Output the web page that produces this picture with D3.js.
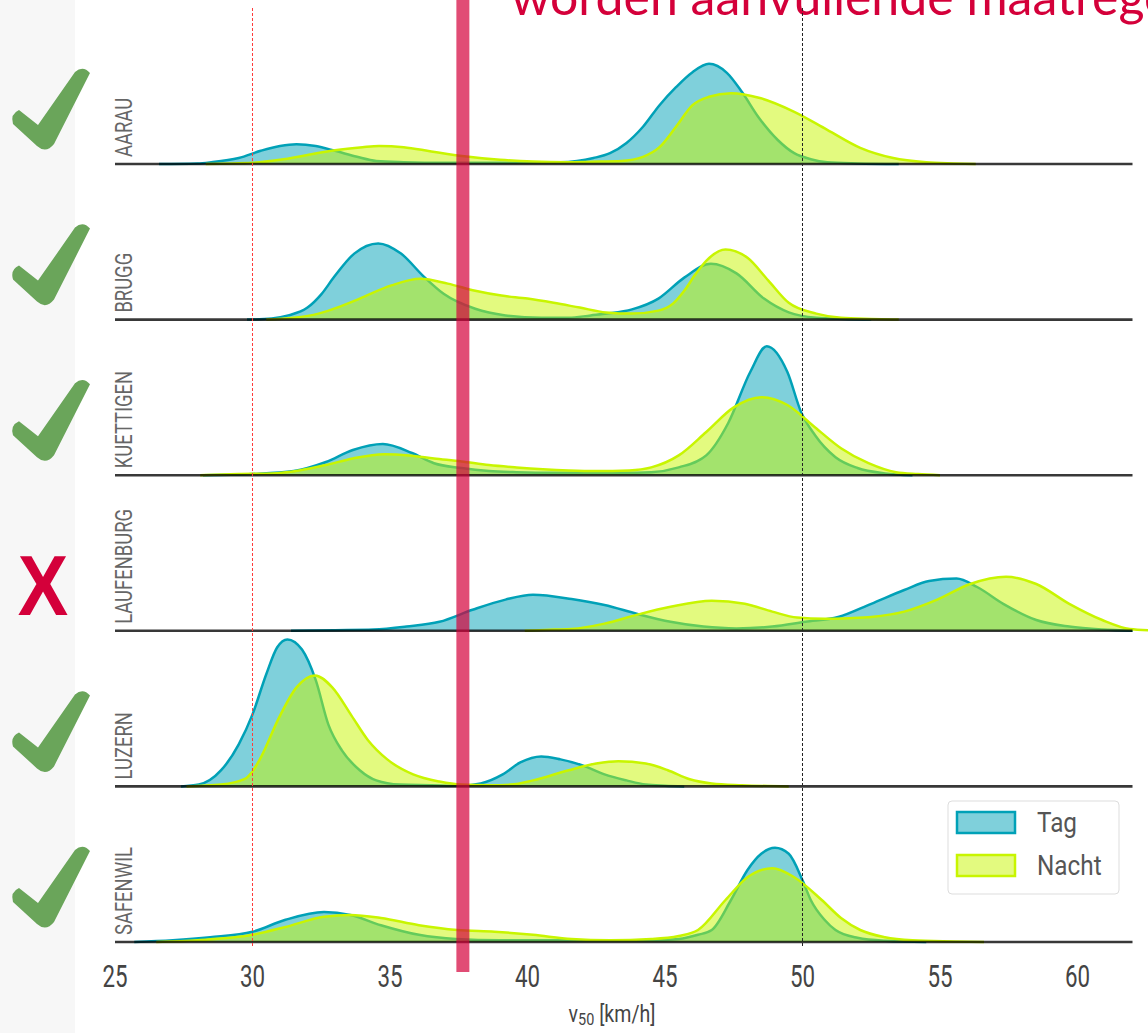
<!DOCTYPE html>
<html>
<head>
<meta charset="utf-8">
<script src="https://cdn.jsdelivr.net/npm/d3@7"></script>
<style>
  html, body { margin: 0; padding: 0; background: #ffffff; }
  svg { display: block; }
</style>
</head>
<body>
<svg id="chart" width="1148" height="1033"></svg>
<script>
// Stations, top to bottom
const stations = ["AARAU", "BRUGG", "KUETTIGEN", "LAUFENBURG", "LUZERN", "SAFENWIL"];
// Verdict per station (true = ok)
const verdicts = [true, true, true, false, true, true];

// Speed distribution (density per km/h) of v50, pairs of [km/h, density]
const tagAarau = [[26.6,0],[28.0,0.001],[28.5,0.003],[29.5,0.010],[30.3,0.022],[31.0,0.030],[31.6,0.033],[32.3,0.030],[33.0,0.022],[33.8,0.012],[34.5,0.005],[35.5,0.003],[37.0,0.002],[39.0,0.002],[40.5,0.003],[41.2,0.003],[41.8,0.005],[42.4,0.010],[43.0,0.018],[43.6,0.035],[44.2,0.062],[44.8,0.098],[45.4,0.128],[46.0,0.153],[46.6,0.167],[47.25,0.152],[47.8,0.120],[48.4,0.078],[49.1,0.040],[49.7,0.018],[50.3,0.008],[50.9,0.003],[52.0,0.001],[53.5,0]];
const nachtAarau = [[28.3,0],[30.0,0.002],[31.0,0.007],[32.0,0.015],[33.0,0.023],[34.0,0.028],[34.6,0.030],[35.5,0.028],[36.5,0.021],[37.7,0.013],[39.0,0.007],[40.2,0.004],[41.5,0.003],[42.6,0.004],[43.4,0.005],[44.2,0.012],[44.8,0.028],[45.4,0.062],[46.0,0.098],[46.6,0.112],[47.4,0.118],[48.45,0.110],[49.7,0.087],[50.9,0.057],[52.1,0.027],[53.3,0.010],[54.5,0.003],[55.5,0.001],[56.3,0]];

const tagBrugg = [[29.8,0],[30.7,0.002],[31.3,0.007],[32.0,0.020],[32.5,0.042],[32.95,0.070],[33.7,0.110],[34.57,0.127],[35.4,0.110],[36.2,0.073],[36.95,0.043],[38.1,0.018],[39.2,0.007],[40.5,0.003],[41.5,0.003],[42.3,0.007],[42.9,0.010],[43.8,0.017],[44.76,0.035],[45.7,0.070],[46.67,0.093],[47.6,0.077],[48.6,0.035],[49.5,0.012],[50.5,0.003],[51.5,0.001],[52.5,0]];
const nachtBrugg = [[30.5,0],[31.5,0.003],[32.4,0.010],[33.2,0.022],[33.9,0.035],[35.05,0.057],[36.1,0.068],[37.1,0.060],[38.1,0.048],[39.05,0.040],[40.0,0.035],[40.95,0.028],[41.9,0.020],[42.86,0.012],[43.8,0.010],[44.76,0.015],[45.3,0.027],[45.7,0.048],[46.1,0.075],[46.5,0.098],[47.2,0.117],[48.0,0.103],[48.76,0.065],[49.5,0.028],[50.5,0.010],[51.4,0.003],[52.5,0.001],[53.5,0]];

const tagKuettigen = [[28.2,0],[30.0,0.002],[31.5,0.007],[32.67,0.022],[33.65,0.042],[34.74,0.052],[35.8,0.037],[36.6,0.020],[37.6,0.012],[38.6,0.007],[39.6,0.005],[41.0,0.004],[42.5,0.004],[43.5,0.004],[44.5,0.005],[45.5,0.013],[46.5,0.033],[47.3,0.087],[48.1,0.172],[48.7,0.215],[49.45,0.172],[49.95,0.105],[50.45,0.067],[51.2,0.030],[52.0,0.012],[53.0,0.003],[54.0,0]];
const nachtKuettigen = [[28.1,0],[29.5,0.002],[30.7,0.003],[31.7,0.008],[32.67,0.017],[33.65,0.028],[34.8,0.035],[35.7,0.033],[36.6,0.028],[37.6,0.023],[38.6,0.017],[39.6,0.013],[40.56,0.010],[41.5,0.008],[42.5,0.007],[43.7,0.008],[44.5,0.013],[45.5,0.033],[46.5,0.072],[47.5,0.113],[48.5,0.130],[49.45,0.117],[50.45,0.080],[51.4,0.045],[52.4,0.020],[53.4,0.005],[54.2,0.002],[55.0,0]];

const tagLaufenburg = [[31.4,0],[33.0,0.001],[34.4,0.002],[35.6,0.007],[36.8,0.015],[38.0,0.035],[39.2,0.052],[40.2,0.060],[41.6,0.053],[42.8,0.043],[44.0,0.028],[45.2,0.015],[46.4,0.007],[47.6,0.004],[48.9,0.007],[50.1,0.015],[51.3,0.023],[52.5,0.045],[53.7,0.068],[54.6,0.083],[55.6,0.087],[56.35,0.073],[57.3,0.045],[58.5,0.018],[59.7,0.007],[60.9,0.002],[62.0,0]];
const nachtLaufenburg = [[39.9,0],[41.0,0.002],[41.6,0.003],[42.8,0.012],[44.0,0.027],[45.2,0.040],[46.7,0.050],[47.9,0.045],[48.9,0.032],[49.8,0.022],[50.8,0.020],[51.7,0.021],[52.5,0.023],[53.7,0.032],[54.9,0.052],[56.1,0.078],[57.4,0.090],[58.5,0.078],[59.7,0.045],[60.9,0.018],[61.9,0.003],[62.6,0.001]];

const tagLuzern = [[27.4,0],[28.05,0.003],[28.86,0.027],[29.5,0.070],[30.0,0.120],[30.5,0.187],[30.9,0.232],[31.27,0.245],[31.8,0.228],[32.3,0.177],[32.76,0.103],[33.25,0.060],[33.9,0.027],[34.5,0.010],[35.36,0.003],[36.5,0.002],[37.5,0.001],[38.3,0.005],[39.1,0.020],[39.74,0.040],[40.5,0.050],[41.2,0.045],[42.0,0.035],[42.8,0.020],[43.6,0.010],[44.3,0.003],[45.0,0.001],[45.7,0]];
const nachtLuzern = [[27.6,0],[28.86,0.003],[29.7,0.012],[30.0,0.025],[30.3,0.048],[30.97,0.115],[31.6,0.165],[32.27,0.185],[32.9,0.165],[33.6,0.118],[34.2,0.077],[34.9,0.045],[35.84,0.020],[36.8,0.008],[37.6,0.003],[38.6,0.002],[39.4,0.003],[40.2,0.010],[41.5,0.027],[42.5,0.038],[43.3,0.042],[44.3,0.038],[45.1,0.027],[45.9,0.012],[46.7,0.005],[47.8,0.002],[49.5,0]];

const tagSafenwil = [[25.7,0],[27.1,0.003],[28.46,0.008],[30.0,0.017],[31.2,0.037],[32.6,0.050],[33.56,0.045],[34.67,0.028],[36.05,0.012],[37.4,0.005],[39.0,0.003],[41.0,0.003],[43.0,0.003],[44.5,0.003],[45.5,0.005],[46.2,0.012],[46.7,0.020],[47.4,0.070],[48.0,0.120],[48.5,0.147],[49.0,0.157],[49.5,0.147],[50.0,0.103],[50.3,0.070],[50.8,0.037],[51.2,0.020],[52.0,0.007],[53.0,0.002],[54.5,0]];
const nachtSafenwil = [[26.5,0],[28.0,0.003],[30.0,0.012],[31.2,0.025],[32.6,0.042],[33.56,0.045],[34.67,0.040],[36.05,0.028],[37.44,0.020],[38.8,0.017],[40.2,0.012],[41.6,0.005],[43.0,0.003],[44.5,0.005],[45.5,0.010],[46.2,0.020],[47.2,0.070],[48.0,0.108],[48.9,0.123],[49.7,0.108],[50.7,0.070],[51.4,0.040],[52.1,0.020],[53.0,0.008],[54.0,0.003],[55.5,0.001],[56.6,0]];

const tagSeries = [tagAarau, tagBrugg, tagKuettigen, tagLaufenburg, tagLuzern, tagSafenwil];
const nachtSeries = [nachtAarau, nachtBrugg, nachtKuettigen, nachtLaufenburg, nachtLuzern, nachtSafenwil];

const seriesNames = ["Tag", "Nacht"];
const xTicks = [25, 30, 35, 40, 45, 50, 55, 60];
const xDomain = [25, 62];
const speedLimit = 50;      // black dashed reference
const lowerMark = 30;       // thin red dashed reference
const threshold = 37.65;    // thick red bar
const headline = "worden aanvullende maatregelen";

// ---- styling ----
const tagColor = "#00a1b7";
const nachtColor = "#c8f500";
const red = "#d4003a";
const checkGreen = "#6aa55a";

const svg = d3.select("#chart");
const W = 1148, H = 1033;

svg.append("rect").attr("width", W).attr("height", H).attr("fill", "#ffffff");
svg.append("rect").attr("x", 0).attr("y", 0).attr("width", 75).attr("height", H).attr("fill", "#f7f7f7");

const x = d3.scaleLinear().domain(xDomain).range([115, 1132.5]);
const row = d3.scalePoint().domain(stations).range([164, 942]);
const h = d3.scaleLinear().domain([0, 0.25]).range([0, 150]);

// headline, partly above the top edge
svg.append("text")
  .attr("x", 511).attr("y", 15)
  .attr("font-family", "Lato, 'Open Sans', sans-serif")
  .attr("font-size", 50)
  .attr("fill", red)
  .text(headline);

// tick-mark icon, drawn around its own centre
const checkPath = "M-38,12 Q-41,2 -32,-2 L-13,13 L24,-40 Q32,-47 39,-39 L3,32 Q-5,42 -14,34 Z";

const curve = d3.curveMonotoneX;

stations.forEach((name, i) => {
  const base = row(name);
  const g = svg.append("g");
  const area = d3.area().curve(curve).x(d => x(d[0])).y0(base).y1(d => base - h(d[1]));
  const line = d3.line().curve(curve).x(d => x(d[0])).y(d => base - h(d[1]));

  // Tag
  g.append("path").datum(tagSeries[i]).attr("d", area)
    .attr("fill", tagColor).attr("fill-opacity", 0.5);
  g.append("path").datum(tagSeries[i]).attr("d", line)
    .attr("fill", "none").attr("stroke", tagColor).attr("stroke-width", 2.5);
  // Nacht
  g.append("path").datum(nachtSeries[i]).attr("d", area)
    .attr("fill", nachtColor).attr("fill-opacity", 0.5);
  g.append("path").datum(nachtSeries[i]).attr("d", line)
    .attr("fill", "none").attr("stroke", nachtColor).attr("stroke-width", 2.5);

  // baseline
  g.append("line")
    .attr("x1", x(xDomain[0])).attr("x2", x(xDomain[1]))
    .attr("y1", base).attr("y2", base)
    .attr("stroke", "#000").attr("stroke-opacity", 0.78).attr("stroke-width", 2.6);

  // station name, rotated
  g.append("text")
    .attr("transform", `translate(132,${base - 7}) rotate(-90) scale(0.8,1)`)
    .attr("font-family", "Roboto, 'DejaVu Sans', sans-serif")
    .attr("font-size", 23)
    .attr("fill", "#666")
    .text(name);

  // verdict mark
  if (verdicts[i]) {
    svg.append("path")
      .attr("transform", `translate(51,${base - 52})`)
      .attr("d", checkPath)
      .attr("fill", checkGreen);
  } else {
    svg.append("text")
      .attr("transform", `translate(43,${base - 16}) scale(0.88,1)`)
      .attr("text-anchor", "middle")
      .attr("font-family", "'Liberation Sans', Arial, sans-serif")
      .attr("font-weight", "bold")
      .attr("font-size", 86)
      .attr("fill", red)
      .text("X");
  }
});

// reference lines
svg.append("line")
  .attr("x1", x(lowerMark)).attr("x2", x(lowerMark)).attr("y1", 8).attr("y2", 948)
  .attr("stroke", "#ff3b3b").attr("stroke-width", 1).attr("stroke-dasharray", "3,2");
svg.append("line")
  .attr("x1", x(speedLimit)).attr("x2", x(speedLimit)).attr("y1", 8).attr("y2", 948)
  .attr("stroke", "#222").attr("stroke-width", 1).attr("stroke-dasharray", "3,2");

// x axis tick labels
const axis = svg.append("g");
xTicks.forEach(t => {
  axis.append("text")
    .attr("transform", `translate(${x(t)},987) scale(0.72,1)`)
    .attr("text-anchor", "middle")
    .attr("font-family", "Roboto, sans-serif")
    .attr("font-size", 31)
    .attr("fill", "#444")
    .text(t);
});
const xt = axis.append("text")
  .attr("transform", `translate(612,1022) scale(0.85,1)`)
  .attr("text-anchor", "middle")
  .attr("font-family", "Roboto, sans-serif")
  .attr("font-size", 23)
  .attr("fill", "#444");
xt.append("tspan").text("v");
xt.append("tspan").attr("font-size", 17).attr("dy", 3).text("50");
xt.append("tspan").attr("dy", -3).text(" [km/h]");

// legend
const lg = svg.append("g");
lg.append("rect").attr("x", 948).attr("y", 801).attr("width", 171).attr("height", 93)
  .attr("rx", 4).attr("fill", "#fff").attr("stroke", "#ddd").attr("stroke-width", 1);
[[tagColor, 0], [nachtColor, 1]].forEach(([c, k]) => {
  const yy = 812 + k * 43;
  lg.append("rect").attr("x", 957).attr("y", yy).attr("width", 58).attr("height", 21)
    .attr("fill", c).attr("fill-opacity", 0.5).attr("stroke", c).attr("stroke-width", 2.5);
  lg.append("text")
    .attr("transform", `translate(1037,${yy + 20}) scale(0.9,1)`)
    .attr("font-family", "Roboto, sans-serif")
    .attr("font-size", 27)
    .attr("fill", "#555")
    .text(seriesNames[k]);
});

// threshold bar on top
svg.append("line")
  .attr("x1", x(threshold)).attr("x2", x(threshold)).attr("y1", 0).attr("y2", 972)
  .attr("stroke", red).attr("stroke-opacity", 0.7).attr("stroke-width", 13);
</script>
</body>
</html>
